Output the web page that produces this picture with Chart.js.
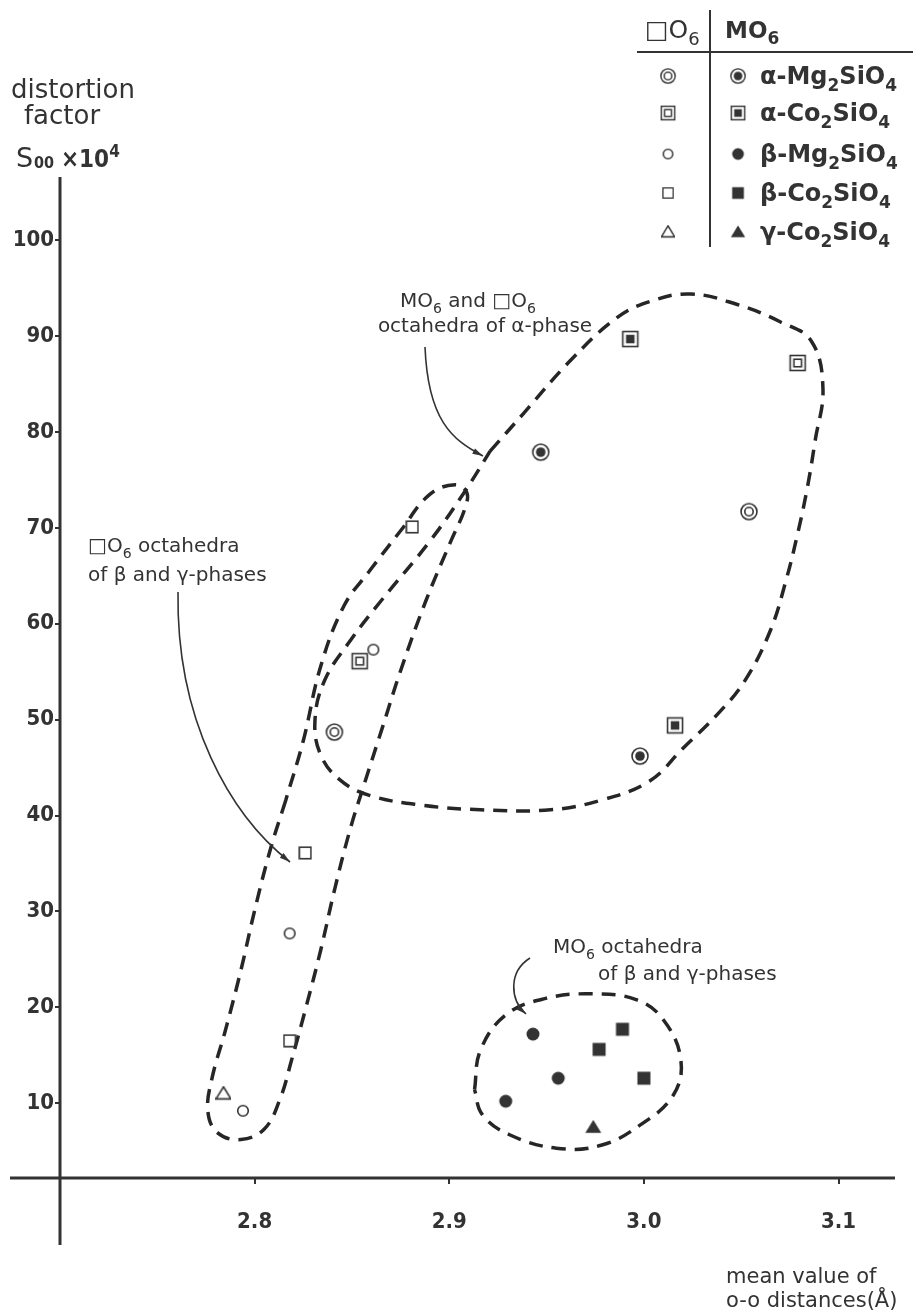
<!DOCTYPE html>
<html>
<head>
<meta charset="utf-8">
<script src="https://cdn.jsdelivr.net/npm/chart.js@4.4.1/dist/chart.umd.min.js"></script>
<style>
  html, body { margin: 0; padding: 0; background: #fff; }
  canvas { display: block; }
</style>
</head>
<body>
<canvas id="chart" width="922" height="1315"></canvas>
<script>
// axis ticks
const xTicks = [2.8, 2.9, 3.0, 3.1];
const yTicks = [10, 20, 30, 40, 50, 60, 70, 80, 90, 100];

// □O6 octahedra (open symbols)
const aMgBoxX = [2.841, 3.054];
const aMgBoxY = [48.7, 71.7];
const aCoBoxX = [2.854, 3.079];
const aCoBoxY = [56.1, 87.2];
const bMgBoxX = [2.861, 2.818, 2.794];
const bMgBoxY = [57.3, 27.7, 9.2];
const bCoBoxX = [2.881, 2.826, 2.818];
const bCoBoxY = [70.1, 36.1, 16.5];
const gCoBoxX = [2.784];
const gCoBoxY = [11.0];

// MO6 octahedra (filled symbols)
const aMgMX = [2.947, 2.998];
const aMgMY = [77.9, 46.2];
const aCoMX = [2.993, 3.016];
const aCoMY = [89.7, 49.4];
const bMgMX = [2.943, 2.956, 2.929];
const bMgMY = [17.2, 12.6, 10.2];
const bCoMX = [2.989, 2.977, 3.000];
const bCoMY = [17.7, 15.6, 12.6];
const gCoMX = [2.974];
const gCoMY = [7.5];

// dashed enclosures, in data units
const alphaLoopX = [2.921, 2.938, 2.962, 2.986, 3.003, 3.024, 3.048, 3.070, 3.086, 3.092, 3.088, 3.084, 3.079, 3.073, 3.065, 3.052, 3.038, 3.020, 3.003, 2.978, 2.952, 2.916, 2.885, 2.859, 2.844, 2.834, 2.831, 2.836, 2.849, 2.865, 2.890, 2.908, 2.921];
const alphaLoopY = [78.0, 81.9, 87.4, 91.9, 93.6, 94.4, 93.3, 91.5, 89.5, 84.6, 79.1, 74.2, 69.4, 64.5, 59.3, 54.1, 50.6, 47.0, 43.6, 41.6, 40.6, 40.6, 41.1, 42.1, 43.7, 46.3, 49.9, 54.1, 58.2, 62.4, 68.6, 73.8, 78.0];
const boxLoopX = [2.816, 2.808, 2.800, 2.793, 2.785, 2.778, 2.776, 2.781, 2.793, 2.805, 2.813, 2.819, 2.826, 2.834, 2.841, 2.849, 2.857, 2.866, 2.875, 2.888, 2.901, 2.908, 2.909, 2.903, 2.890, 2.875, 2.859, 2.846, 2.834, 2.825, 2.816];
const boxLoopY = [41.6, 36.4, 30.1, 23.9, 17.6, 12.5, 9.1, 6.9, 6.2, 7.3, 10.4, 14.5, 19.7, 26.0, 32.2, 38.5, 43.7, 49.4, 55.1, 62.4, 68.7, 72.0, 73.7, 74.5, 73.5, 69.7, 65.5, 61.9, 55.6, 47.8, 41.6];
const moLoopX = [2.913, 2.916, 2.929, 2.949, 2.973, 2.996, 3.010, 3.019, 3.015, 2.998, 2.978, 2.955, 2.931, 2.917, 2.913];
const moLoopY = [11.4, 15.5, 19.2, 20.9, 21.4, 20.8, 18.7, 14.5, 10.8, 7.7, 5.6, 5.3, 6.7, 8.8, 11.4];

const INK = '#333';
const TEXT_FONT = "'DejaVu Sans', 'Open Sans', sans-serif";
const NUM_FONT = "'Liberation Sans Narrow', 'DejaVu Sans Condensed', 'Roboto', sans-serif";

const pts = (xs, ys) => xs.map((x, i) => ({ x, y: ys[i] }));

function marker(draw, size) {
  const c = document.createElement('canvas');
  c.width = size;
  c.height = size;
  const g = c.getContext('2d');
  g.translate(size / 2, size / 2);
  g.strokeStyle = INK;
  g.fillStyle = INK;
  g.lineWidth = 1.6;
  draw(g);
  return c;
}
const circ = (g, r, fill) => { g.beginPath(); g.arc(0, 0, r, 0, Math.PI * 2); fill ? g.fill() : g.stroke(); };
const sq = (g, s, fill) => (fill ? g.fillRect(-s / 2, -s / 2, s, s) : g.strokeRect(-s / 2, -s / 2, s, s));
const tri = (g, s, fill) => {
  g.beginPath();
  g.moveTo(0, -s * 0.5);
  g.lineTo(s * 0.55, s * 0.4);
  g.lineTo(-s * 0.55, s * 0.4);
  g.closePath();
  fill ? g.fill() : g.stroke();
};

const sym = {
  aMgBox: marker((g) => { circ(g, 8); circ(g, 4.2); }, 20),
  aMgM: marker((g) => { circ(g, 8); circ(g, 4.8, true); }, 20),
  aCoBox: marker((g) => { sq(g, 15); sq(g, 7.5); }, 20),
  aCoM: marker((g) => { sq(g, 15); sq(g, 8.5, true); }, 20),
  bMgBox: marker((g) => circ(g, 5.3), 14),
  bMgM: marker((g) => circ(g, 6.5, true), 16),
  bCoBox: marker((g) => sq(g, 11.5), 14),
  bCoM: marker((g) => sq(g, 13, true), 16),
  gCoBox: marker((g) => tri(g, 13.5), 16),
  gCoM: marker((g) => tri(g, 14.5, true), 18),
};

const pointSet = (label, xs, ys, style) => ({
  label,
  data: pts(xs, ys),
  pointStyle: style,
  pointRadius: 8,
  showLine: false,
});
const loopSet = (label, xs, ys) => ({
  label,
  data: pts(xs, ys),
  showLine: true,
  borderColor: '#262626',
  borderWidth: 3.5,
  borderDash: [14, 9],
  tension: 0.4,
  pointRadius: 0,
  fill: false,
});

// text with _x subscripts and ^x superscripts
function rich(ctx, str, x, y, size, align = 'left', family = TEXT_FONT, weight = 'normal') {
  const parts = [];
  for (let i = 0; i < str.length; i++) {
    const ch = str[i];
    if ((ch === '_' || ch === '^') && i + 1 < str.length) {
      parts.push({ t: str[i + 1], k: ch });
      i++;
    } else if (parts.length && !parts[parts.length - 1].k) {
      parts[parts.length - 1].t += ch;
    } else {
      parts.push({ t: ch, k: '' });
    }
  }
  const fontFor = (p) => `${weight} ${p.k ? Math.round(size * 0.72) : size}px ${family}`;
  let w = 0;
  parts.forEach((p) => { ctx.font = fontFor(p); p.w = ctx.measureText(p.t).width; w += p.w; });
  let cx = align === 'center' ? x - w / 2 : align === 'right' ? x - w : x;
  ctx.textBaseline = 'alphabetic';
  ctx.textAlign = 'left';
  parts.forEach((p) => {
    ctx.font = fontFor(p);
    const dy = p.k === '_' ? size * 0.28 : p.k === '^' ? -size * 0.42 : 0;
    ctx.fillText(p.t, cx, y + dy);
    cx += p.w;
  });
}

function arrow(ctx, p0, c1, c2, p3) {
  ctx.beginPath();
  ctx.moveTo(p0[0], p0[1]);
  ctx.bezierCurveTo(c1[0], c1[1], c2[0], c2[1], p3[0], p3[1]);
  ctx.stroke();
  const a = Math.atan2(p3[1] - c2[1], p3[0] - c2[0]);
  ctx.beginPath();
  ctx.moveTo(p3[0], p3[1]);
  ctx.lineTo(p3[0] - 11 * Math.cos(a - 0.28), p3[1] - 11 * Math.sin(a - 0.28));
  ctx.lineTo(p3[0] - 11 * Math.cos(a + 0.28), p3[1] - 11 * Math.sin(a + 0.28));
  ctx.closePath();
  ctx.fill();
}

const legendRows = [
  ['aMgBox', 'aMgM', 'α-Mg_2SiO_4'],
  ['aCoBox', 'aCoM', 'α-Co_2SiO_4'],
  ['bMgBox', 'bMgM', 'β-Mg_2SiO_4'],
  ['bCoBox', 'bCoM', 'β-Co_2SiO_4'],
  ['gCoBox', 'gCoM', 'γ-Co_2SiO_4'],
];

const decor = {
  id: 'decor',
  beforeDatasetsDraw(chart) {
    const { ctx, chartArea: a } = chart;
    ctx.save();
    ctx.strokeStyle = INK;
    ctx.lineWidth = 3;
    ctx.beginPath();
    ctx.moveTo(10, a.bottom);
    ctx.lineTo(a.right + 2, a.bottom);
    ctx.moveTo(a.left, a.top);
    ctx.lineTo(a.left, a.bottom + 67);
    ctx.stroke();
    ctx.restore();
  },
  afterDraw(chart) {
    const { ctx } = chart;
    ctx.save();
    ctx.fillStyle = INK;
    ctx.strokeStyle = INK;

    // axis titles
    rich(ctx, 'distortion', 73, 98, 26, 'center');
    rich(ctx, 'factor', 62, 124, 26, 'center');
    rich(ctx, 'S', 16, 167, 27);
    rich(ctx, '_0_0', 34, 162, 22, 'left', NUM_FONT, 'bold');
    rich(ctx, '×10^4', 61, 167, 24, 'left', NUM_FONT, 'bold');
    rich(ctx, 'mean value of', 726, 1283, 21);
    rich(ctx, 'o-o distances(Å)', 726, 1307, 21);

    // annotations
    rich(ctx, 'MO_6 and □O_6', 468, 307, 20, 'center');
    rich(ctx, 'octahedra of α-phase', 485, 332, 20, 'center');
    rich(ctx, '□O_6 octahedra', 88, 552, 20);
    rich(ctx, 'of β and γ-phases', 88, 581, 20);
    rich(ctx, 'MO_6 octahedra', 553, 953, 20);
    rich(ctx, 'of β and γ-phases', 598, 980, 20);

    ctx.lineWidth = 1.6;
    arrow(ctx, [425, 347], [428, 420], [452, 440], [483, 456]);
    arrow(ctx, [178, 592], [176, 720], [230, 815], [290, 862]);
    arrow(ctx, [530, 958], [508, 972], [510, 1000], [526, 1014]);

    // legend table
    ctx.lineWidth = 2;
    ctx.beginPath();
    ctx.moveTo(637, 52);
    ctx.lineTo(913, 52);
    ctx.moveTo(710, 10);
    ctx.lineTo(710, 247);
    ctx.stroke();
    rich(ctx, '□O_6', 645, 38, 25);
    rich(ctx, 'MO_6', 725, 38, 23, 'left', TEXT_FONT, 'bold');
    const rowY = [76, 113, 154, 193, 232];
    legendRows.forEach(([open, full, text], i) => {
      const y = rowY[i];
      const so = sym[open];
      const sf = sym[full];
      ctx.drawImage(so, 668 - so.width * 0.45, y - so.height * 0.45, so.width * 0.9, so.height * 0.9);
      ctx.drawImage(sf, 738 - sf.width * 0.45, y - sf.height * 0.45, sf.width * 0.9, sf.height * 0.9);
      rich(ctx, text, 760, y + 8, 24, 'left', TEXT_FONT, '600');
    });
    ctx.restore();
  },
};

new Chart(document.getElementById('chart'), {
  type: 'scatter',
  data: {
    datasets: [
      pointSet('α-Mg2SiO4 □O6', aMgBoxX, aMgBoxY, sym.aMgBox),
      pointSet('α-Co2SiO4 □O6', aCoBoxX, aCoBoxY, sym.aCoBox),
      pointSet('β-Mg2SiO4 □O6', bMgBoxX, bMgBoxY, sym.bMgBox),
      pointSet('β-Co2SiO4 □O6', bCoBoxX, bCoBoxY, sym.bCoBox),
      pointSet('γ-Co2SiO4 □O6', gCoBoxX, gCoBoxY, sym.gCoBox),
      pointSet('α-Mg2SiO4 MO6', aMgMX, aMgMY, sym.aMgM),
      pointSet('α-Co2SiO4 MO6', aCoMX, aCoMY, sym.aCoM),
      pointSet('β-Mg2SiO4 MO6', bMgMX, bMgMY, sym.bMgM),
      pointSet('β-Co2SiO4 MO6', bCoMX, bCoMY, sym.bCoM),
      pointSet('γ-Co2SiO4 MO6', gCoMX, gCoMY, sym.gCoM),
      loopSet('α-phase', alphaLoopX, alphaLoopY),
      loopSet('□O6 β/γ', boxLoopX, boxLoopY),
      loopSet('MO6 β/γ', moLoopX, moLoopY),
    ],
  },
  options: {
    responsive: false,
    animation: false,
    layout: { padding: { top: 177, right: 29, left: 0, bottom: 0 } },
    plugins: { legend: { display: false }, tooltip: { enabled: false } },
    scales: {
      x: {
        type: 'linear',
        min: 2.7,
        max: 3.128,
        afterBuildTicks: (s) => { s.ticks = xTicks.map((v) => ({ value: v })); },
        afterFit: (s) => { s.height = 137; },
        border: { display: false },
        grid: { drawOnChartArea: false, tickLength: 6, color: INK, lineWidth: 2 },
        ticks: {
          callback: (v) => v.toFixed(1),
          color: INK,
          padding: 25,
          maxRotation: 0,
          font: { family: NUM_FONT, size: 22, weight: 'bold' },
        },
      },
      y: {
        type: 'linear',
        min: 2.19,
        max: 106.6,
        afterBuildTicks: (s) => { s.ticks = yTicks.map((v) => ({ value: v })); },
        afterFit: (s) => { s.width = 60; },
        border: { display: false },
        grid: { drawOnChartArea: false, tickLength: 5, color: INK, lineWidth: 2 },
        ticks: {
          color: INK,
          padding: 1,
          font: { family: NUM_FONT, size: 22, weight: 'bold' },
        },
      },
    },
  },
  plugins: [decor],
});
</script>
</body>
</html>
